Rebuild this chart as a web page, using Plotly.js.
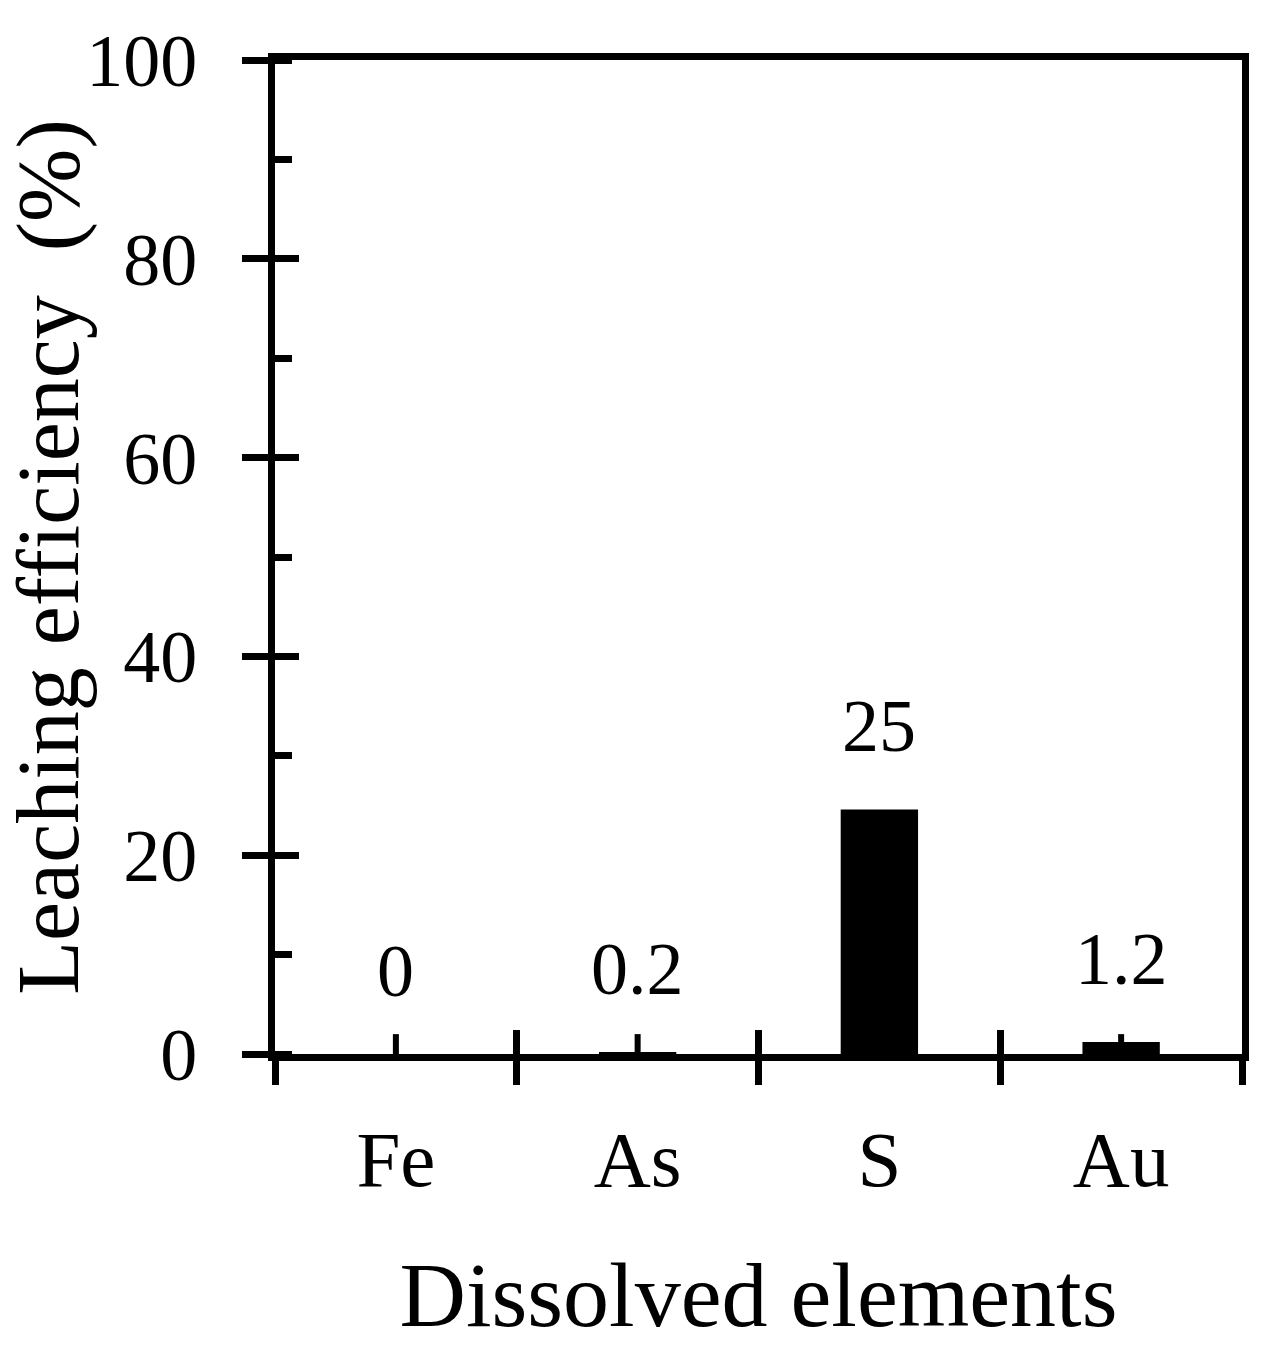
<!DOCTYPE html>
<html>
<head>
<meta charset="utf-8">
<script src="https://cdn.plot.ly/plotly-3.0.1.min.js"></script>
<style>
  body { margin: 0; background: #fff; }
  #chart { width: 1283px; height: 1348px; }
</style>
</head>
<body>
<div id="chart"></div>
<script>
// dissolved elements and their leaching efficiency (%)
var elements = ['Fe', 'As', 'S', 'Au'];
var efficiency = [0, 0.2, 24.6, 1.2];
var errPlus = [2.0, 1.8, 0, 0.8];
var errMinus = [0, 0, 0, 0];
var valueLabels = ['0', '0.2', '25', '1.2'];
var yTicks = [0, 20, 40, 60, 80, 100];

var serif = 'Liberation Serif, Times New Roman, serif';

var data = [{
  x: elements,
  y: efficiency,
  type: 'bar',
  width: 0.32,
  marker: {color: '#000', line: {width: 0}},
  error_y: {
    type: 'data',
    symmetric: false,
    array: errPlus,
    arrayminus: errMinus,
    color: '#000',
    thickness: 6,
    width: 0
  },
  hoverinfo: 'x+y'
}, {
  // invisible copy, only so the overlay axes (inner halves of the cross ticks) get drawn
  x: elements,
  y: efficiency,
  type: 'bar',
  width: 0.32,
  xaxis: 'x2',
  yaxis: 'y2',
  marker: {color: 'rgba(0,0,0,0)'},
  hoverinfo: 'skip'
}];

var annotations = [];
for (var i = 0; i < elements.length; i++) {
  annotations.push({
    x: elements[i],
    y: efficiency[i],
    xref: 'x',
    yref: 'y',
    text: valueLabels[i],
    showarrow: false,
    yanchor: 'bottom',
    yshift: 40,
    font: {family: serif, size: 74, color: '#000'}
  });
}

var layout = {
  width: 1283,
  height: 1348,
  margin: {l: 275, r: 41, t: 60, b: 294},
  paper_bgcolor: '#fff',
  plot_bgcolor: '#fff',
  showlegend: false,
  barmode: 'overlay',
  font: {family: serif, color: '#000'},
  xaxis: {
    type: 'category',
    categoryarray: elements,
    range: [-0.5, 3.5],
    tickson: 'boundaries',
    ticks: 'outside',
    ticklen: 24,
    tickwidth: 7,
    tickcolor: '#000',
    showline: true,
    linewidth: 7,
    linecolor: '#000',
    mirror: true,
    showgrid: false,
    zeroline: false,
    ticklabelstandoff: 30,
    tickfont: {family: serif, size: 79, color: '#000'},
    title: {text: 'Dissolved elements', standoff: 62, font: {family: serif, size: 92, color: '#000'}},
    automargin: false
  },
  xaxis2: {
    overlaying: 'x',
    anchor: 'y2',
    type: 'category',
    categoryarray: elements,
    range: [-0.5, 3.5],
    tickson: 'boundaries',
    ticks: 'inside',
    ticklen: 24,
    tickwidth: 7,
    tickcolor: '#000',
    showticklabels: false,
    showline: false,
    showgrid: false,
    zeroline: false
  },
  yaxis: {
    range: [0, 100],
    tickvals: yTicks,
    ticks: 'outside',
    ticklen: 26,
    tickwidth: 7,
    tickcolor: '#000',
    minor: {ticks: 'inside', dtick: 10, ticklen: 17, tickwidth: 7, tickcolor: '#000', showgrid: false},
    showline: true,
    linewidth: 7,
    linecolor: '#000',
    mirror: true,
    showgrid: false,
    zeroline: false,
    ticklabelstandoff: 30,
    tickfont: {family: serif, size: 74, color: '#000'},
    title: {text: 'Leaching efficiency\u00a0\u00a0(%)', standoff: 20, font: {family: serif, size: 88, color: '#000'}},
    automargin: false
  },
  yaxis2: {
    overlaying: 'y',
    anchor: 'x2',
    side: 'left',
    range: [0, 100],
    tickvals: yTicks,
    ticks: 'inside',
    ticklen: 24,
    tickwidth: 7,
    tickcolor: '#000',
    showticklabels: false,
    showline: false,
    showgrid: false,
    zeroline: false
  },
  annotations: annotations
};

Plotly.newPlot('chart', data, layout, {staticPlot: true});
</script>
</body>
</html>
